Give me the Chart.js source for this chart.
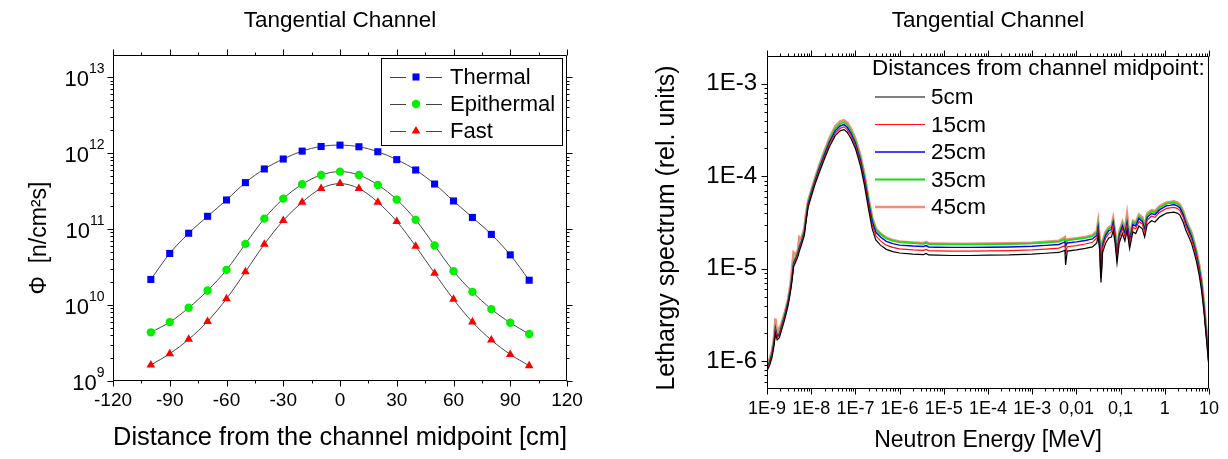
<!DOCTYPE html>
<html>
<head>
<meta charset="utf-8">
<title>Tangential Channel</title>
<script src="https://cdn.jsdelivr.net/npm/chart.js@4.4.0/dist/chart.umd.min.js"></script>
<style>
  html, body { margin: 0; padding: 0; background: #fff; }
  #wrap { position: relative; width: 1228px; height: 459px; }
  .panel { position: absolute; top: 0; width: 614px; height: 459px; }
</style>
</head>
<body>
<div id="wrap">
  <div class="panel" style="left:0"><canvas id="profileChart"></canvas></div>
  <div class="panel" style="left:614px"><canvas id="spectrumChart"></canvas></div>
</div>
<script>
/* left panel: flux along the channel */
const positions = [-100, -90, -80, -70, -60, -50, -40, -30, -20, -10, 0, 10, 20, 30, 40, 50, 60, 70, 80, 90, 100];
const thermal = [2.17e10, 4.77e10, 8.8e10, 1.47e11, 2.41e11, 4.08e11, 6.17e11, 8.34e11, 1.06e12, 1.22e12, 1.27e12,
  1.21e12, 1.04e12, 8.19e11, 5.98e11, 3.91e11, 2.34e11, 1.42e11, 8.5e10, 4.57e10, 2.12e10];
const epithermal = [4.37e9, 5.96e9, 9.19e9, 1.55e10, 2.9e10, 6.37e10, 1.37e11, 2.51e11, 3.88e11, 5.14e11, 5.69e11,
  5.14e11, 3.8e11, 2.44e11, 1.32e11, 6.07e10, 2.79e10, 1.49e10, 8.83e9, 5.84e9, 4.15e9];
const fast = [1.62e9, 2.29e9, 3.53e9, 6.09e9, 1.21e10, 2.73e10, 6.31e10, 1.29e11, 2.25e11, 3.41e11, 3.96e11,
  3.41e11, 2.25e11, 1.26e11, 5.94e10, 2.62e10, 1.19e10, 5.96e9, 3.46e9, 2.24e9, 1.59e9];
const positionTicks = [-120, -90, -60, -30, 0, 30, 60, 90, 120];
const fluxTicks = [1e9, 1e10, 1e11, 1e12, 1e13];
const fluxTickExponents = ["9", "10", "11", "12", "13"];

/* right panel: lethargy spectra */
const energy = [
  1e-9, 1.15e-9, 1.3e-9, 1.45e-9, 1.55e-9, 1.7e-9, 1.9e-9, 2.1e-9, 2.5e-9, 3e-9,
  3.4e-9, 3.7e-9, 4e-9, 4.5e-9, 5e-9, 5.4e-9, 6e-9, 7e-9, 7.5e-9, 8.5e-9,
  1e-8, 1.2e-8, 1.5e-8, 2e-8, 2.6e-8, 3.5e-8, 4.5e-8, 5.5e-8, 6.5e-8, 8e-8,
  1e-7, 1.3e-7, 1.6e-7, 2e-7, 2.4e-7, 2.9e-7, 3.7e-7, 5e-7, 7e-7, 1e-6,
  2e-6, 3.5e-6, 4e-6, 4.5e-6, 7e-6, 1.5e-5, 4e-5, 1e-4, 3e-4, 1e-3,
  2e-3, 4e-3, 5.5e-3, 5.7e-3, 6.2e-3, 1e-2, 1.6e-2, 2.3e-2, 2.9e-2, 3.1e-2,
  3.4e-2, 3.6e-2, 3.9e-2, 4.6e-2, 5.4e-2, 6.2e-2, 6.8e-2, 7.5e-2, 8.3e-2, 9.3e-2,
  0.11, 0.125, 0.14, 0.16, 0.19, 0.22, 0.26, 0.31, 0.35, 0.4,
  0.5, 0.6, 0.75, 0.9, 1.1, 1.3, 1.6, 1.9, 2.2, 2.6,
  3.0, 3.5, 4.0, 4.6, 5.2, 6.0, 6.8, 7.7, 8.6, 9.4,
  10];
const cm5 = [
  7.9e-7, 9.0e-7, 1.1e-6, 1.5e-6, 2.0e-6, 1.7e-6, 1.8e-6, 2.1e-6, 2.8e-6, 4.0e-6,
  5.6e-6, 7.5e-6, 1.05e-5, 1.2e-5, 1.35e-5, 1.55e-5, 1.8e-5, 2.3e-5, 3.0e-5, 4.6e-5,
  6.0e-5, 8.0e-5, 1.08e-4, 1.55e-4, 2.1e-4, 2.75e-4, 3.1e-4, 3.2e-4, 3.0e-4, 2.55e-4,
  2.0e-4, 1.3e-4, 8.0e-5, 4.3e-5, 2.7e-5, 2.05e-5, 1.8e-5, 1.62e-5, 1.53e-5, 1.48e-5,
  1.44e-5, 1.42e-5, 1.46e-5, 1.41e-5, 1.4e-5, 1.39e-5, 1.39e-5, 1.4e-5, 1.41e-5, 1.44e-5,
  1.47e-5, 1.5e-5, 1.58e-5, 1.1e-5, 1.55e-5, 1.6e-5, 1.66e-5, 1.72e-5, 1.9e-5, 2.3e-5,
  1.5e-5, 7.1e-6, 1.5e-5, 1.9e-5, 2.15e-5, 2.2e-5, 2.6e-5, 1.9e-5, 1.15e-5, 1.9e-5,
  2.4e-5, 2.0e-5, 2.6e-5, 1.65e-5, 2.5e-5, 2.4e-5, 2.9e-5, 2.7e-5, 2.2e-5, 3.0e-5,
  3.3e-5, 3.2e-5, 3.6e-5, 3.8e-5, 4.0e-5, 4.05e-5, 4.1e-5, 4.0e-5, 3.8e-5, 3.2e-5,
  2.6e-5, 2.2e-5, 1.9e-5, 1.5e-5, 1.2e-5, 8.5e-6, 5.8e-6, 3.4e-6, 1.9e-6, 1.2e-6,
  8.5e-7];
const cm15 = [
  8.3e-7, 9.5e-7, 1.16e-6, 1.6e-6, 2.2e-6, 1.8e-6, 1.9e-6, 2.25e-6, 2.95e-6, 4.2e-6,
  5.9e-6, 8.0e-6, 1.12e-5, 1.27e-5, 1.42e-5, 1.65e-5, 1.9e-5, 2.45e-5, 3.15e-5, 4.85e-5,
  6.3e-5, 8.4e-5, 1.14e-4, 1.64e-4, 2.23e-4, 2.93e-4, 3.3e-4, 3.42e-4, 3.2e-4, 2.73e-4,
  2.15e-4, 1.4e-4, 8.7e-5, 4.7e-5, 3.0e-5, 2.27e-5, 2.0e-5, 1.8e-5, 1.7e-5, 1.64e-5,
  1.6e-5, 1.58e-5, 1.62e-5, 1.57e-5, 1.56e-5, 1.55e-5, 1.55e-5, 1.56e-5, 1.57e-5, 1.6e-5,
  1.63e-5, 1.67e-5, 1.78e-5, 1.5e-5, 1.73e-5, 1.78e-5, 1.85e-5, 1.93e-5, 2.15e-5, 2.6e-5,
  1.7e-5, 7.8e-6, 1.7e-5, 2.15e-5, 2.4e-5, 2.5e-5, 2.95e-5, 2.15e-5, 1.3e-5, 2.15e-5,
  2.7e-5, 2.25e-5, 2.95e-5, 1.85e-5, 2.8e-5, 2.7e-5, 3.25e-5, 3.05e-5, 2.5e-5, 3.35e-5,
  3.7e-5, 3.6e-5, 4.05e-5, 4.25e-5, 4.5e-5, 4.55e-5, 4.6e-5, 4.5e-5, 4.25e-5, 3.6e-5,
  2.9e-5, 2.45e-5, 2.1e-5, 1.68e-5, 1.34e-5, 9.4e-6, 6.4e-6, 3.7e-6, 2.05e-6, 1.3e-6,
  9.0e-7];
const cm25 = [
  8.6e-7, 9.8e-7, 1.2e-6, 1.63e-6, 2.25e-6, 1.85e-6, 1.95e-6, 2.3e-6, 3.05e-6, 4.35e-6,
  6.1e-6, 8.2e-6, 1.15e-5, 1.3e-5, 1.46e-5, 1.7e-5, 1.95e-5, 2.5e-5, 3.25e-5, 5.0e-5,
  6.5e-5, 8.7e-5, 1.19e-4, 1.72e-4, 2.35e-4, 3.1e-4, 3.5e-4, 3.62e-4, 3.4e-4, 2.9e-4,
  2.28e-4, 1.5e-4, 9.4e-5, 5.1e-5, 3.25e-5, 2.48e-5, 2.2e-5, 1.98e-5, 1.87e-5, 1.8e-5,
  1.76e-5, 1.74e-5, 1.78e-5, 1.72e-5, 1.71e-5, 1.7e-5, 1.7e-5, 1.71e-5, 1.72e-5, 1.75e-5,
  1.79e-5, 1.83e-5, 1.95e-5, 1.75e-5, 1.9e-5, 1.95e-5, 2.02e-5, 2.1e-5, 2.3e-5, 2.8e-5,
  1.8e-5, 8.2e-6, 1.8e-5, 2.3e-5, 2.58e-5, 2.65e-5, 3.15e-5, 2.3e-5, 1.4e-5, 2.3e-5,
  2.9e-5, 2.4e-5, 3.15e-5, 2.0e-5, 3.0e-5, 2.9e-5, 3.5e-5, 3.25e-5, 2.65e-5, 3.6e-5,
  3.95e-5, 3.85e-5, 4.3e-5, 4.55e-5, 4.8e-5, 4.85e-5, 4.95e-5, 4.8e-5, 4.55e-5, 3.85e-5,
  3.1e-5, 2.6e-5, 2.25e-5, 1.78e-5, 1.42e-5, 1.0e-5, 6.8e-6, 3.9e-6, 2.15e-6, 1.35e-6,
  9.3e-7];
const cm35 = [
  9.0e-7, 1.02e-6, 1.24e-6, 1.68e-6, 2.3e-6, 1.9e-6, 2.02e-6, 2.38e-6, 3.15e-6, 4.5e-6,
  6.3e-6, 8.5e-6, 1.2e-5, 1.35e-5, 1.52e-5, 1.76e-5, 2.02e-5, 2.6e-5, 3.38e-5, 5.2e-5,
  6.75e-5, 9.0e-5, 1.24e-4, 1.8e-4, 2.48e-4, 3.27e-4, 3.7e-4, 3.84e-4, 3.6e-4, 3.08e-4,
  2.42e-4, 1.6e-4, 1.0e-4, 5.45e-5, 3.5e-5, 2.66e-5, 2.36e-5, 2.12e-5, 2.0e-5, 1.94e-5,
  1.89e-5, 1.86e-5, 1.91e-5, 1.85e-5, 1.84e-5, 1.83e-5, 1.83e-5, 1.84e-5, 1.85e-5, 1.88e-5,
  1.92e-5, 1.96e-5, 2.08e-5, 1.9e-5, 2.03e-5, 2.09e-5, 2.16e-5, 2.25e-5, 2.45e-5, 2.95e-5,
  1.9e-5, 8.5e-6, 1.9e-5, 2.42e-5, 2.73e-5, 2.8e-5, 3.3e-5, 2.42e-5, 1.48e-5, 2.42e-5,
  3.05e-5, 2.55e-5, 3.3e-5, 2.1e-5, 3.18e-5, 3.05e-5, 3.68e-5, 3.43e-5, 2.8e-5, 3.8e-5,
  4.18e-5, 4.06e-5, 4.55e-5, 4.8e-5, 5.05e-5, 5.12e-5, 5.2e-5, 5.05e-5, 4.8e-5, 4.05e-5,
  3.28e-5, 2.78e-5, 2.4e-5, 1.9e-5, 1.5e-5, 1.06e-5, 7.2e-6, 4.1e-6, 2.25e-6, 1.4e-6,
  9.6e-7];
const cm45 = [
  9.3e-7, 1.06e-6, 1.3e-6, 1.8e-6, 2.9e-6, 2.0e-6, 2.3e-6, 2.5e-6, 3.3e-6, 4.7e-6,
  6.8e-6, 1.0e-5, 1.5e-5, 1.42e-5, 1.6e-5, 2.2e-5, 2.1e-5, 2.75e-5, 3.7e-5, 5.4e-5,
  7.0e-5, 9.3e-5, 1.29e-4, 1.88e-4, 2.6e-4, 3.45e-4, 3.92e-4, 4.05e-4, 3.8e-4, 3.25e-4,
  2.55e-4, 1.68e-4, 1.05e-4, 5.6e-5, 3.6e-5, 2.72e-5, 2.4e-5, 2.16e-5, 2.04e-5, 1.97e-5,
  1.92e-5, 1.89e-5, 1.95e-5, 1.88e-5, 1.87e-5, 1.86e-5, 1.86e-5, 1.87e-5, 1.88e-5, 1.91e-5,
  1.95e-5, 2.0e-5, 2.2e-5, 1.95e-5, 2.07e-5, 2.13e-5, 2.2e-5, 2.3e-5, 2.55e-5, 3.2e-5,
  2.0e-5, 8.8e-6, 2.0e-5, 2.5e-5, 2.8e-5, 2.9e-5, 3.5e-5, 2.5e-5, 1.55e-5, 2.5e-5,
  3.2e-5, 2.65e-5, 3.9e-5, 2.2e-5, 3.3e-5, 3.15e-5, 3.85e-5, 3.6e-5, 2.9e-5, 3.95e-5,
  4.3e-5, 4.2e-5, 4.7e-5, 4.95e-5, 5.2e-5, 5.28e-5, 5.35e-5, 5.2e-5, 4.95e-5, 4.2e-5,
  3.4e-5, 2.85e-5, 2.48e-5, 1.95e-5, 1.55e-5, 1.1e-5, 7.5e-6, 4.3e-6, 2.4e-6, 1.5e-6,
  1.0e-6];
const energyTicks = [1e-9, 1e-8, 1e-7, 1e-6, 1e-5, 1e-4, 1e-3, 1e-2, 1e-1, 1, 10];
const energyTickLabels = ["1E-9", "1E-8", "1E-7", "1E-6", "1E-5", "1E-4", "1E-3", "0,01", "0,1", "1", "10"];
const spectrumTicks = [1e-6, 1e-5, 1e-4, 1e-3];
const spectrumTickLabels = ["1E-6", "1E-5", "1E-4", "1E-3"];

const FONT = '"Liberation Sans", Arial, sans-serif';
Chart.defaults.font.family = FONT;
Chart.defaults.color = "#000";

// minor tick helpers
function logMinors(min, max) {
  const out = [];
  for (let d = Math.floor(Math.log10(min)); d <= Math.ceil(Math.log10(max)); d++) {
    for (let k = 2; k <= 9; k++) {
      const v = k * Math.pow(10, d);
      if (v > min && v < max) out.push(v);
    }
  }
  return out;
}

// box frame + outward tick marks
function makeFrame(cfg) {
  return {
    id: "frame",
    afterDatasetsDraw(chart) {
      const { ctx, chartArea: a } = chart;
      const xs = chart.scales.x, ys = chart.scales.y;
      const L = Math.round(a.left) + 0.5, R = Math.round(a.right) - 0.5;
      const T = Math.round(a.top) + 0.5, B = Math.round(a.bottom) - 0.5;
      ctx.save();
      ctx.strokeStyle = "#000";
      ctx.lineWidth = 1;
      ctx.beginPath();
      ctx.rect(L, T, R - L, B - T);
      const xt = (v, len) => {
        const p = Math.round(xs.getPixelForValue(v)) + 0.5;
        ctx.moveTo(p, B); ctx.lineTo(p, B + len);
        ctx.moveTo(p, T); ctx.lineTo(p, T - len);
      };
      const yt = (v, len) => {
        const p = Math.round(ys.getPixelForValue(v)) + 0.5;
        ctx.moveTo(L, p); ctx.lineTo(L - len, p);
        if (cfg.right) { ctx.moveTo(R, p); ctx.lineTo(R + len, p); }
      };
      cfg.xMajor.forEach(v => xt(v, 6));
      cfg.xMinor.forEach(v => xt(v, 3));
      cfg.yMajor.forEach(v => yt(v, 6));
      cfg.yMinor.forEach(v => yt(v, 3));
      ctx.stroke();

      // powers of ten with raised exponent
      if (cfg.powerLabels) {
        ctx.fillStyle = "#000";
        ctx.textAlign = "right";
        cfg.yMajor.forEach((v, i) => {
          const p = ys.getPixelForValue(v);
          const exp = cfg.powerLabels[i];
          ctx.font = "14px " + FONT;
          const ew = ctx.measureText(exp).width;
          const xr = L - 9;
          ctx.textBaseline = "middle";
          ctx.fillText(exp, xr, p - 8);
          ctx.font = "22px " + FONT;
          ctx.fillText("10", xr - ew, p + 3);
        });
      }

      // rotated axis title
      if (cfg.yTitle) {
        ctx.save();
        ctx.translate(cfg.yTitle.x, cfg.yTitle.y);
        ctx.rotate(-Math.PI / 2);
        ctx.font = cfg.yTitle.size + "px " + FONT;
        ctx.textAlign = "center";
        ctx.textBaseline = "middle";
        ctx.fillStyle = "#000";
        ctx.fillText(cfg.yTitle.text, 0, 0);
        ctx.restore();
      }
      ctx.restore();
    }
  };
}

// legend drawn inside the plot
function makeLegend(cfg) {
  return {
    id: "boxLegend",
    afterDraw(chart) {
      const ctx = chart.ctx;
      ctx.save();
      ctx.font = cfg.font;
      ctx.textBaseline = "middle";
      ctx.fillStyle = "#000";
      if (cfg.box) {
        ctx.strokeStyle = "#000";
        ctx.lineWidth = 1;
        ctx.strokeRect(cfg.box[0] + 0.5, cfg.box[1] + 0.5, cfg.box[2], cfg.box[3]);
      }
      if (cfg.heading) ctx.fillText(cfg.heading, cfg.headingX, cfg.headingY);
      const ds = chart.data.datasets;
      cfg.order.forEach((idx, row) => {
        const d = ds[idx];
        const y = cfg.y0 + row * cfg.dy;
        if (cfg.markers) {
          ctx.strokeStyle = "#444";
          ctx.lineWidth = 1;
          ctx.beginPath();
          ctx.moveTo(cfg.x0, y + 0.5); ctx.lineTo(cfg.x0 + 16, y + 0.5);
          ctx.moveTo(cfg.x1 - 16, y + 0.5); ctx.lineTo(cfg.x1, y + 0.5);
          ctx.stroke();
          ctx.fillStyle = d.pointBackgroundColor;
          ctx.strokeStyle = d.pointBackgroundColor;
          Chart.helpers.drawPoint(ctx, { pointStyle: d.pointStyle, radius: d.pointRadius, rotation: 0, borderWidth: 0 },
            (cfg.x0 + cfg.x1) / 2, y);
        } else {
          ctx.strokeStyle = d.borderColor;
          ctx.lineWidth = d.borderWidth;
          ctx.beginPath();
          ctx.moveTo(cfg.x0, y); ctx.lineTo(cfg.x1, y);
          ctx.stroke();
        }
        ctx.fillStyle = "#000";
        ctx.fillText(d.label, cfg.textX, y + 1);
      });
      ctx.restore();
    }
  };
}

function profileSet(label, values, color, style, radius) {
  return {
    label: label,
    data: positions.map((x, i) => ({ x: x, y: values[i] })),
    borderColor: "#333",
    borderWidth: 0.9,
    tension: 0.35,
    pointStyle: style,
    pointRadius: radius,
    pointBackgroundColor: color,
    pointBorderColor: color,
    pointBorderWidth: 0
  };
}

function spectrumSet(label, values, color, width) {
  return {
    label: label,
    data: energy.map((e, i) => ({ x: e, y: values[i] })),
    borderColor: color,
    borderWidth: width,
    pointRadius: 0,
    tension: 0
  };
}

const profileMinors = [-105, -75, -45, -15, 15, 45, 75, 105];

new Chart(document.getElementById("profileChart"), {
  type: "line",
  data: {
    datasets: [
      profileSet("Thermal", thermal, "#0000ff", "rect", 5),
      profileSet("Epithermal", epithermal, "#00f000", "circle", 4.2),
      profileSet("Fast", fast, "#ff0000", "triangle", 5)
    ]
  },
  options: {
    responsive: true,
    maintainAspectRatio: false,
    animation: false,
    layout: { padding: { left: 0, right: 47, top: 0, bottom: 0 } },
    plugins: {
      legend: { display: false },
      tooltip: { enabled: false },
      title: {
        display: true,
        text: "Tangential Channel",
        fullSize: false,
        color: "#000",
        font: { size: 22.5, weight: "normal" },
        padding: { top: 7, bottom: 21 }
      }
    },
    scales: {
      x: {
        type: "linear",
        min: -120,
        max: 120,
        afterFit: s => { s.height = 78; },
        afterBuildTicks: s => { s.ticks = positionTicks.map(v => ({ value: v })); },
        grid: { display: false, drawTicks: false },
        border: { display: false },
        ticks: { padding: 8, font: { size: 19 }, autoSkip: false, maxRotation: 0, callback: v => String(v) },
        title: {
          display: true,
          text: "Distance from the channel midpoint [cm]",
          font: { size: 26 },
          padding: { top: 0, bottom: 6 }
        }
      },
      y: {
        type: "logarithmic",
        min: 1e9,
        max: 1.95e13,
        afterFit: s => { s.width = 113; },
        afterBuildTicks: s => { s.ticks = fluxTicks.map(v => ({ value: v })); },
        grid: { display: false, drawTicks: false },
        border: { display: false },
        ticks: { display: false }
      }
    }
  },
  plugins: [
    makeFrame({
      xMajor: positionTicks, xMinor: profileMinors, yMajor: fluxTicks, yMinor: logMinors(1e9, 1.95e13), right: true,
      powerLabels: fluxTickExponents,
      yTitle: { text: "\u03a6  [n/cm\u00b2s]", x: 40, y: 238, size: 23 }
    }),
    makeLegend({
      font: "22px " + FONT,
      box: [381, 58, 181, 87],
      order: [0, 1, 2],
      markers: true,
      x0: 390, x1: 442, textX: 450, y0: 77, dy: 27
    })
  ]
});

new Chart(document.getElementById("spectrumChart"), {
  type: "line",
  data: {
    datasets: [
      spectrumSet("5cm", cm5, "#000000", 1.2),
      spectrumSet("15cm", cm15, "#ff1010", 1.2),
      spectrumSet("25cm", cm25, "#0000ff", 1.4),
      spectrumSet("35cm", cm35, "#10e010", 1.8),
      spectrumSet("45cm", cm45, "rgba(240,110,90,0.8)", 2.6)
    ]
  },
  options: {
    responsive: true,
    maintainAspectRatio: false,
    animation: false,
    layout: { padding: { left: 0, right: 18, top: 0, bottom: 0 } },
    plugins: {
      legend: { display: false },
      tooltip: { enabled: false },
      title: {
        display: true,
        text: "Tangential Channel",
        fullSize: false,
        color: "#000",
        font: { size: 22.5, weight: "normal" },
        padding: { top: 7, bottom: 22 }
      }
    },
    scales: {
      x: {
        type: "logarithmic",
        min: 1e-9,
        max: 10,
        afterFit: s => { s.height = 70; },
        afterBuildTicks: s => { s.ticks = energyTicks.map(v => ({ value: v })); },
        grid: { display: false, drawTicks: false },
        border: { display: false },
        ticks: { padding: 9, font: { size: 18 }, autoSkip: false, maxRotation: 0, callback: (v, i) => energyTickLabels[i] },
        title: {
          display: true,
          text: "Neutron Energy [MeV]",
          font: { size: 23 },
          padding: { top: 0, bottom: 5 }
        }
      },
      y: {
        type: "logarithmic",
        min: 5e-7,
        max: 2e-3,
        afterFit: s => { s.width = 153; },
        afterBuildTicks: s => { s.ticks = spectrumTicks.map(v => ({ value: v })); },
        grid: { display: false, drawTicks: false },
        border: { display: false },
        ticks: { padding: 10, font: { size: 24 }, autoSkip: false, callback: (v, i) => spectrumTickLabels[i] }
      }
    }
  },
  plugins: [
    makeFrame({
      xMajor: energyTicks, xMinor: logMinors(1e-9, 10), yMajor: spectrumTicks, yMinor: logMinors(5e-7, 2e-3), right: false,
      yTitle: { text: "Lethargy spectrum (rel. units)", x: 53, y: 228, size: 25 }
    }),
    makeLegend({
      font: "22.5px " + FONT,
      heading: "Distances from channel midpoint:",
      headingX: 258, headingY: 69,
      order: [0, 1, 2, 3, 4],
      markers: false,
      x0: 261, x1: 311, textX: 317, y0: 97, dy: 27.5
    })
  ]
});
</script>
</body>
</html>
